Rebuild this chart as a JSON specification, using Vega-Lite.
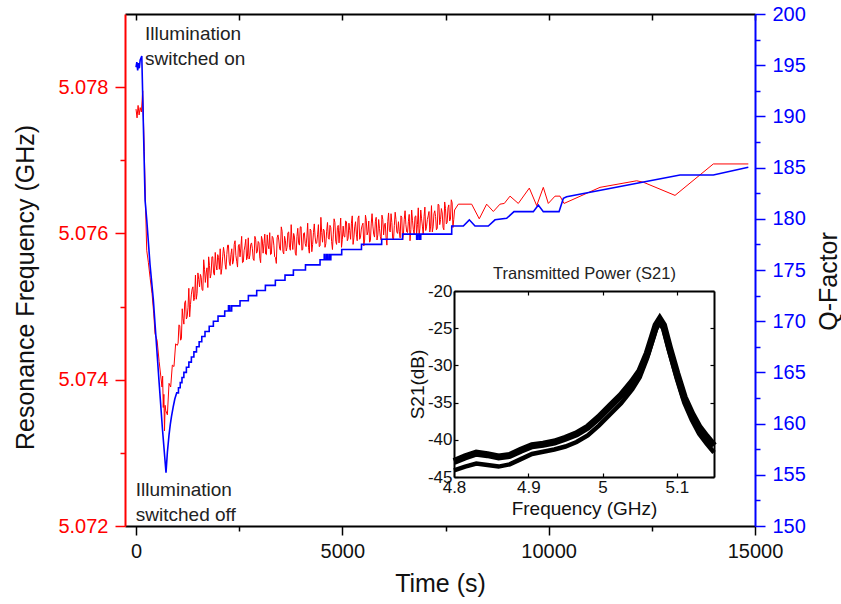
{
  "$schema": "https://vega.github.io/schema/vega-lite/v6.json",
  "width": 630,
  "height": 512,
  "autosize": {"type": "none"},
  "padding": {"left": 125, "top": 14, "right": 86, "bottom": 78},
  "background": "white",
  "config": {
    "font": "Liberation Sans",
    "view": {"stroke": null},
    "axis": {"grid": false, "labelFont": "Liberation Sans", "titleFont": "Liberation Sans", "titleFontWeight": "normal", "labelFlush": false, "labelOverlap": false, "labelBound": false}
  },
  "datasets": {
    "freq": [
      {"t": 0, "f": 5.0777}, {"t": 25, "f": 5.07758}, {"t": 50, "f": 5.07775}, {"t": 75, "f": 5.07762}, {"t": 100, "f": 5.07772}, {"t": 130, "f": 5.07766}, {"t": 162, "f": 5.07795}, {"t": 200, "f": 5.07712}, {"t": 230, "f": 5.0764}, {"t": 259, "f": 5.07577}, {"t": 300, "f": 5.0756}, {"t": 340, "f": 5.0754}, {"t": 388, "f": 5.07518}, {"t": 430, "f": 5.0749}, {"t": 460, "f": 5.07463}, {"t": 510, "f": 5.07454}, {"t": 560, "f": 5.07425}, {"t": 600, "f": 5.07405}, {"t": 630, "f": 5.0739}, {"t": 645, "f": 5.07405}, {"t": 660, "f": 5.07362}, {"t": 675, "f": 5.0738}, {"t": 690, "f": 5.0733}, {"t": 705, "f": 5.07365},
      {"t": 720, "f": 5.07358}, {"t": 760, "f": 5.07352}, {"t": 800, "f": 5.07395}, {"t": 840, "f": 5.0739}, {"t": 880, "f": 5.0742}, {"t": 920, "f": 5.07418}, {"t": 960, "f": 5.07449}, {"t": 1000, "f": 5.07447}, {"t": 1040, "f": 5.07475}, {"t": 1080, "f": 5.07454}, {"t": 1120, "f": 5.07497}, {"t": 1160, "f": 5.07476}, {"t": 1200, "f": 5.07508}, {"t": 1240, "f": 5.07486}, {"t": 1280, "f": 5.07525}, {"t": 1320, "f": 5.07503}, {"t": 1360, "f": 5.07524}, {"t": 1400, "f": 5.07508}, {"t": 1440, "f": 5.07543}, {"t": 1480, "f": 5.07518}, {"t": 1520, "f": 5.07537}, {"t": 1560, "f": 5.07544}, {"t": 1600, "f": 5.07523}, {"t": 1640, "f": 5.07564}, {"t": 1680, "f": 5.07533}, {"t": 1720, "f": 5.07553}, {"t": 1760, "f": 5.07568}, {"t": 1800, "f": 5.07539}, {"t": 1840, "f": 5.07568}, {"t": 1880, "f": 5.07546}, {"t": 1920, "f": 5.07574}, {"t": 1960, "f": 5.0755}, {"t": 2000, "f": 5.07567}, {"t": 2040, "f": 5.07579}, {"t": 2080, "f": 5.07552}, {"t": 2120, "f": 5.07581}, {"t": 2160, "f": 5.07558}, {"t": 2200, "f": 5.07571}, {"t": 2240, "f": 5.07584}, {"t": 2280, "f": 5.07556}, {"t": 2320, "f": 5.07579}, {"t": 2360, "f": 5.07562}, {"t": 2400, "f": 5.0759}, {"t": 2440, "f": 5.07562}, {"t": 2480, "f": 5.07583}, {"t": 2520, "f": 5.07568}, {"t": 2560, "f": 5.07596}, {"t": 2600, "f": 5.07561}, {"t": 2640, "f": 5.07583}, {"t": 2680, "f": 5.07564}, {"t": 2720, "f": 5.07594}, {"t": 2760, "f": 5.0757}, {"t": 2800, "f": 5.07587}, {"t": 2840, "f": 5.07565}, {"t": 2880, "f": 5.07596}, {"t": 2920, "f": 5.07573}, {"t": 2960, "f": 5.07589}, {"t": 3000, "f": 5.07566}, {"t": 3040, "f": 5.07596}, {"t": 3080, "f": 5.07573}, {"t": 3120, "f": 5.07599}, {"t": 3160, "f": 5.07571}, {"t": 3200, "f": 5.07584}, {"t": 3240, "f": 5.07601}, {"t": 3280, "f": 5.07572}, {"t": 3320, "f": 5.07594}, {"t": 3360, "f": 5.07568}, {"t": 3400, "f": 5.07559}, {"t": 3440, "f": 5.07598}, {"t": 3480, "f": 5.07579}, {"t": 3520, "f": 5.07609}, {"t": 3560, "f": 5.07575}, {"t": 3600, "f": 5.07596}, {"t": 3640, "f": 5.07576}, {"t": 3680, "f": 5.07601}, {"t": 3720, "f": 5.07581}, {"t": 3760, "f": 5.07612}, {"t": 3800, "f": 5.07578}, {"t": 3840, "f": 5.07595}, {"t": 3880, "f": 5.0757}, {"t": 3920, "f": 5.07607}, {"t": 3960, "f": 5.07584}, {"t": 4000, "f": 5.07609}, {"t": 4040, "f": 5.07578}, {"t": 4080, "f": 5.07601}, {"t": 4120, "f": 5.07582}, {"t": 4160, "f": 5.07614}, {"t": 4200, "f": 5.07573}, {"t": 4240, "f": 5.07604}, {"t": 4280, "f": 5.07585}, {"t": 4320, "f": 5.07613}, {"t": 4360, "f": 5.07586}, {"t": 4400, "f": 5.07598}, {"t": 4440, "f": 5.07582}, {"t": 4480, "f": 5.07622}, {"t": 4520, "f": 5.07588}, {"t": 4560, "f": 5.07604}, {"t": 4600, "f": 5.07586}, {"t": 4640, "f": 5.07615}, {"t": 4680, "f": 5.07592}, {"t": 4720, "f": 5.07608}, {"t": 4760, "f": 5.07578}, {"t": 4800, "f": 5.0762}, {"t": 4840, "f": 5.07589}, {"t": 4880, "f": 5.07608}, {"t": 4920, "f": 5.07587}, {"t": 4960, "f": 5.07621}, {"t": 5000, "f": 5.07592}, {"t": 5040, "f": 5.07596}, {"t": 5080, "f": 5.07617}, {"t": 5120, "f": 5.0759}, {"t": 5160, "f": 5.07614}, {"t": 5200, "f": 5.07592}, {"t": 5240, "f": 5.07624}, {"t": 5280, "f": 5.07594}, {"t": 5320, "f": 5.07616}, {"t": 5360, "f": 5.0759}, {"t": 5400, "f": 5.07624}, {"t": 5440, "f": 5.07595}, {"t": 5480, "f": 5.07611}, {"t": 5520, "f": 5.07583}, {"t": 5560, "f": 5.07625}, {"t": 5600, "f": 5.07598}, {"t": 5640, "f": 5.07617}, {"t": 5680, "f": 5.0759}, {"t": 5720, "f": 5.07627}, {"t": 5760, "f": 5.07599}, {"t": 5800, "f": 5.07616}, {"t": 5840, "f": 5.07591}, {"t": 5880, "f": 5.07619}, {"t": 5920, "f": 5.07596}, {"t": 5960, "f": 5.07625}, {"t": 6000, "f": 5.07598}, {"t": 6040, "f": 5.07614}, {"t": 6080, "f": 5.07584}, {"t": 6120, "f": 5.07628}, {"t": 6160, "f": 5.07602}, {"t": 6200, "f": 5.07615}, {"t": 6240, "f": 5.07591}, {"t": 6280, "f": 5.07629}, {"t": 6320, "f": 5.07602}, {"t": 6360, "f": 5.07616}, {"t": 6400, "f": 5.07594}, {"t": 6440, "f": 5.07622}, {"t": 6480, "f": 5.07599}, {"t": 6520, "f": 5.07631}, {"t": 6560, "f": 5.07602}, {"t": 6600, "f": 5.07616}, {"t": 6640, "f": 5.0759}, {"t": 6680, "f": 5.07632}, {"t": 6720, "f": 5.07605}, {"t": 6760, "f": 5.07623}, {"t": 6800, "f": 5.07598}, {"t": 6840, "f": 5.07635}, {"t": 6880, "f": 5.07607}, {"t": 6920, "f": 5.0762}, {"t": 6960, "f": 5.07598}, {"t": 7000, "f": 5.07636}, {"t": 7040, "f": 5.07609}, {"t": 7080, "f": 5.07624}, {"t": 7120, "f": 5.07602}, {"t": 7160, "f": 5.07638}, {"t": 7200, "f": 5.07609}, {"t": 7240, "f": 5.07631}, {"t": 7280, "f": 5.07605}, {"t": 7320, "f": 5.0764}, {"t": 7360, "f": 5.07612}, {"t": 7400, "f": 5.07634}, {"t": 7440, "f": 5.07608}, {"t": 7480, "f": 5.07643}, {"t": 7520, "f": 5.07613}, {"t": 7560, "f": 5.07635}, {"t": 7600, "f": 5.07617}, {"t": 7640, "f": 5.07646}, {"t": 7680, "f": 5.07608}, {"t": 7720, "f": 5.07632},
      {"t": 1020, "f": 5.0745}, {"t": 1060, "f": 5.07474}, {"t": 1100, "f": 5.07456}, {"t": 1140, "f": 5.07484}, {"t": 1180, "f": 5.07505}, {"t": 1220, "f": 5.07483}, {"t": 1260, "f": 5.07499}, {"t": 1300, "f": 5.07486}, {"t": 1340, "f": 5.07516}, {"t": 1380, "f": 5.07527}, {"t": 1420, "f": 5.07512}, {"t": 1460, "f": 5.0751}, {"t": 1500, "f": 5.07546}, {"t": 1540, "f": 5.07527}, {"t": 1580, "f": 5.0754}, {"t": 1620, "f": 5.07522}, {"t": 1660, "f": 5.07551}, {"t": 1700, "f": 5.07546}, {"t": 1740, "f": 5.07526}, {"t": 1780, "f": 5.07556}, {"t": 1820, "f": 5.07545}, {"t": 1860, "f": 5.07568}, {"t": 1900, "f": 5.07543}, {"t": 1940, "f": 5.07557}, {"t": 1980, "f": 5.07571}, {"t": 2020, "f": 5.07551}, {"t": 2060, "f": 5.07544}, {"t": 2100, "f": 5.07568}, {"t": 2140, "f": 5.07573}, {"t": 2180, "f": 5.07551}, {"t": 2220, "f": 5.07584}, {"t": 2260, "f": 5.07561}, {"t": 2300, "f": 5.07571}, {"t": 2340, "f": 5.07558}, {"t": 2380, "f": 5.07585}, {"t": 2420, "f": 5.0757}, {"t": 2460, "f": 5.07554}, {"t": 2500, "f": 5.07585}, {"t": 2540, "f": 5.0758}, {"t": 2580, "f": 5.0756}, {"t": 2620, "f": 5.07577}, {"t": 2660, "f": 5.07592}, {"t": 2700, "f": 5.07568}, {"t": 2740, "f": 5.07565}, {"t": 2780, "f": 5.07585}, {"t": 2820, "f": 5.07579}, {"t": 2860, "f": 5.07563}, {"t": 2900, "f": 5.07592}, {"t": 2940, "f": 5.07575}, {"t": 2980, "f": 5.07587}, {"t": 3020, "f": 5.0756}, {"t": 3060, "f": 5.07591}, {"t": 3100, "f": 5.07586}, {"t": 3140, "f": 5.07572}, {"t": 3180, "f": 5.07598}, {"t": 3220, "f": 5.07579}, {"t": 3260, "f": 5.07571}, {"t": 3300, "f": 5.07596}, {"t": 3340, "f": 5.07584}, {"t": 3380, "f": 5.07567}, {"t": 3420, "f": 5.07594}, {"t": 3460, "f": 5.07591}, {"t": 3500, "f": 5.07577}, {"t": 3540, "f": 5.07603}, {"t": 3580, "f": 5.07572}, {"t": 3620, "f": 5.0759}, {"t": 3660, "f": 5.07581}, {"t": 3700, "f": 5.07602}, {"t": 3740, "f": 5.07577}, {"t": 3780, "f": 5.0759}, {"t": 3820, "f": 5.076}, {"t": 3860, "f": 5.07573}, {"t": 3900, "f": 5.07596}, {"t": 3940, "f": 5.07587}, {"t": 3980, "f": 5.07609}, {"t": 4020, "f": 5.07577}, {"t": 4060, "f": 5.076}, {"t": 4100, "f": 5.07586}, {"t": 4140, "f": 5.07595}, {"t": 4180, "f": 5.07581}, {"t": 4220, "f": 5.07606}, {"t": 4260, "f": 5.07575}, {"t": 4300, "f": 5.07601}, {"t": 4340, "f": 5.07595}, {"t": 4380, "f": 5.07587}, {"t": 4420, "f": 5.07612}, {"t": 4460, "f": 5.07583}, {"t": 4500, "f": 5.07601}, {"t": 4540, "f": 5.07606}, {"t": 4580, "f": 5.07581}, {"t": 4620, "f": 5.07603}, {"t": 4660, "f": 5.07594}, {"t": 4700, "f": 5.07611}, {"t": 4740, "f": 5.07589}, {"t": 4780, "f": 5.07598}, {"t": 4820, "f": 5.07615}, {"t": 4860, "f": 5.07585}, {"t": 4900, "f": 5.07611}, {"t": 4940, "f": 5.07604}, {"t": 4980, "f": 5.07581}, {"t": 5020, "f": 5.0761}, {"t": 5060, "f": 5.07595}, {"t": 5100, "f": 5.07616}, {"t": 5140, "f": 5.07593}, {"t": 5180, "f": 5.07604}, {"t": 5220, "f": 5.07614}, {"t": 5260, "f": 5.07585}, {"t": 5300, "f": 5.07609}, {"t": 5340, "f": 5.07599}, {"t": 5380, "f": 5.07621}, {"t": 5420, "f": 5.07592}, {"t": 5460, "f": 5.07606}, {"t": 5500, "f": 5.07614}, {"t": 5540, "f": 5.07591}, {"t": 5580, "f": 5.07618}, {"t": 5620, "f": 5.07602}, {"t": 5660, "f": 5.07588}, {"t": 5700, "f": 5.07613}, {"t": 5740, "f": 5.0761}, {"t": 5780, "f": 5.07595}, {"t": 5820, "f": 5.07622}, {"t": 5860, "f": 5.07598}, {"t": 5900, "f": 5.07607}, {"t": 5940, "f": 5.07591}, {"t": 5980, "f": 5.07619}, {"t": 6020, "f": 5.07612}, {"t": 6060, "f": 5.07594}, {"t": 6100, "f": 5.07616}, {"t": 6140, "f": 5.07604}, {"t": 6180, "f": 5.07627}, {"t": 6220, "f": 5.07593}, {"t": 6260, "f": 5.07611}, {"t": 6300, "f": 5.07619}, {"t": 6340, "f": 5.076}, {"t": 6380, "f": 5.07603}, {"t": 6420, "f": 5.07624}, {"t": 6460, "f": 5.07591}, {"t": 6500, "f": 5.07619}, {"t": 6540, "f": 5.07612}, {"t": 6580, "f": 5.07601}, {"t": 6620, "f": 5.07626}, {"t": 6660, "f": 5.07605}, {"t": 6700, "f": 5.07618}, {"t": 6740, "f": 5.07599}, {"t": 6780, "f": 5.07624}, {"t": 6820, "f": 5.07612}, {"t": 6860, "f": 5.07597}, {"t": 6900, "f": 5.07632}, {"t": 6940, "f": 5.0761}, {"t": 6980, "f": 5.07623}, {"t": 7020, "f": 5.07604}, {"t": 7060, "f": 5.07619}, {"t": 7100, "f": 5.0763}, {"t": 7140, "f": 5.0761}, {"t": 7180, "f": 5.07602}, {"t": 7220, "f": 5.07627}, {"t": 7260, "f": 5.07623}, {"t": 7300, "f": 5.07607}, {"t": 7340, "f": 5.07639}, {"t": 7380, "f": 5.07619}, {"t": 7420, "f": 5.07628}, {"t": 7460, "f": 5.07605}, {"t": 7500, "f": 5.07634}, {"t": 7540, "f": 5.07615}, {"t": 7580, "f": 5.07639}, {"t": 7620, "f": 5.07619}, {"t": 7660, "f": 5.07642}, {"t": 7700, "f": 5.07619},
      {"t": 7811, "f": 5.0764}, {"t": 8134, "f": 5.0764}, {"t": 8318, "f": 5.0762}, {"t": 8497, "f": 5.0764}, {"t": 8659, "f": 5.0763}, {"t": 8820, "f": 5.0764}, {"t": 8925, "f": 5.07641}, {"t": 9063, "f": 5.07651}, {"t": 9264, "f": 5.07641}, {"t": 9531, "f": 5.07662}, {"t": 9710, "f": 5.07638}, {"t": 9870, "f": 5.07663}, {"t": 9991, "f": 5.07641}, {"t": 10154, "f": 5.07651}, {"t": 10275, "f": 5.07651}, {"t": 10372, "f": 5.07641}, {"t": 11244, "f": 5.07663}, {"t": 12133, "f": 5.07672}, {"t": 12294, "f": 5.0767}, {"t": 13062, "f": 5.07652}, {"t": 13990, "f": 5.07695}, {"t": 14838, "f": 5.07695}
    ],
    "q": [
      {"t": 0, "q": 194.8}, {"t": 20, "q": 195.3}, {"t": 40, "q": 194.5}, {"t": 60, "q": 195.2}, {"t": 80, "q": 194.7}, {"t": 100, "q": 195.5}, {"t": 140, "q": 195.9}, {"t": 220, "q": 181.8}, {"t": 260, "q": 179.9}, {"t": 340, "q": 175.5}, {"t": 420, "q": 172.1}, {"t": 560, "q": 164.0}, {"t": 640, "q": 159.5}, {"t": 727, "q": 155.2}, {"t": 760, "q": 157.2}, {"t": 800, "q": 158.9}, {"t": 830, "q": 159.9}, {"t": 860, "q": 160.7}, {"t": 900, "q": 161.6}, {"t": 940, "q": 162.4}, {"t": 986, "q": 163.0},
      {"t": 1028, "q": 163.0}, {"t": 1029, "q": 163.5}, {"t": 1071, "q": 163.5}, {"t": 1072, "q": 164.0}, {"t": 1113, "q": 164.0}, {"t": 1114, "q": 164.5}, {"t": 1159, "q": 164.5}, {"t": 1160, "q": 165.0}, {"t": 1220, "q": 165.0}, {"t": 1221, "q": 165.5}, {"t": 1280, "q": 165.5}, {"t": 1281, "q": 166.0}, {"t": 1341, "q": 166.0}, {"t": 1342, "q": 166.5}, {"t": 1402, "q": 166.5}, {"t": 1403, "q": 167.0}, {"t": 1465, "q": 167.0}, {"t": 1466, "q": 167.5}, {"t": 1529, "q": 167.5}, {"t": 1530, "q": 168.0}, {"t": 1593, "q": 168.0}, {"t": 1594, "q": 168.5}, {"t": 1671, "q": 168.5}, {"t": 1672, "q": 169.0}, {"t": 1773, "q": 169.0}, {"t": 1774, "q": 169.5}, {"t": 1874, "q": 169.5}, {"t": 1875, "q": 170.0}, {"t": 1987, "q": 170.0}, {"t": 1988, "q": 170.5}, {"t": 2149, "q": 170.5}, {"t": 2150, "q": 171.0},
      {"t": 2240, "q": 171.0}, {"t": 2241, "q": 171.5}, {"t": 2255, "q": 171.5}, {"t": 2256, "q": 171.0}, {"t": 2265, "q": 171.0}, {"t": 2266, "q": 171.5}, {"t": 2275, "q": 171.5}, {"t": 2276, "q": 171.0},
      {"t": 2318, "q": 171.0}, {"t": 2319, "q": 171.5}, {"t": 2520, "q": 171.5}, {"t": 2521, "q": 172.0}, {"t": 2722, "q": 172.0}, {"t": 2723, "q": 172.5}, {"t": 2924, "q": 172.5}, {"t": 2925, "q": 173.0}, {"t": 3134, "q": 173.0}, {"t": 3135, "q": 173.5}, {"t": 3376, "q": 173.5}, {"t": 3377, "q": 174.0}, {"t": 3610, "q": 174.0}, {"t": 3611, "q": 174.5}, {"t": 3813, "q": 174.5}, {"t": 3814, "q": 175.0}, {"t": 4106, "q": 175.0}, {"t": 4107, "q": 175.5}, {"t": 4459, "q": 175.5}, {"t": 4460, "q": 176.0},
      {"t": 4560, "q": 176.0}, {"t": 4561, "q": 176.5}, {"t": 4580, "q": 176.5}, {"t": 4581, "q": 176.0}, {"t": 4620, "q": 176.0}, {"t": 4621, "q": 176.5}, {"t": 4640, "q": 176.5}, {"t": 4641, "q": 176.0}, {"t": 4680, "q": 176.0}, {"t": 4681, "q": 176.5}, {"t": 4700, "q": 176.5}, {"t": 4701, "q": 176.0},
      {"t": 4721, "q": 176.0}, {"t": 4722, "q": 176.5}, {"t": 4984, "q": 176.5}, {"t": 4985, "q": 177.0}, {"t": 5463, "q": 177.0}, {"t": 5464, "q": 177.5}, {"t": 5953, "q": 177.5}, {"t": 5954, "q": 178.0}, {"t": 6459, "q": 178.0}, {"t": 6460, "q": 178.5},
      {"t": 6800, "q": 178.5}, {"t": 6801, "q": 178.0}, {"t": 6830, "q": 178.0}, {"t": 6831, "q": 178.5}, {"t": 6870, "q": 178.5}, {"t": 6871, "q": 178.0}, {"t": 6900, "q": 178.0}, {"t": 6901, "q": 178.5},
      {"t": 7650, "q": 178.5}, {"t": 7651, "q": 179.3}, {"t": 7932, "q": 179.3}, {"t": 8077, "q": 179.9}, {"t": 8215, "q": 179.3}, {"t": 8537, "q": 179.3}, {"t": 8700, "q": 179.9}, {"t": 8982, "q": 180.05}, {"t": 9160, "q": 180.7}, {"t": 9628, "q": 180.7}, {"t": 9749, "q": 181.35}, {"t": 9870, "q": 180.7}, {"t": 10251, "q": 180.7}, {"t": 10356, "q": 182.0}, {"t": 10436, "q": 182.16}, {"t": 13183, "q": 184.28}, {"t": 13990, "q": 184.28}, {"t": 14838, "q": 185.03}
    ],
    "s21": [
      {"ghz": 4.8, "db": -42.9, "trace": "upper"}, {"ghz": 4.815, "db": -42.3, "trace": "upper"}, {"ghz": 4.83, "db": -41.8, "trace": "upper"}, {"ghz": 4.845, "db": -42.0, "trace": "upper"}, {"ghz": 4.86, "db": -42.3, "trace": "upper"}, {"ghz": 4.875, "db": -42.1, "trace": "upper"}, {"ghz": 4.89, "db": -41.4, "trace": "upper"}, {"ghz": 4.905, "db": -40.8, "trace": "upper"}, {"ghz": 4.92, "db": -40.6, "trace": "upper"}, {"ghz": 4.935, "db": -40.3, "trace": "upper"}, {"ghz": 4.95, "db": -39.8, "trace": "upper"}, {"ghz": 4.965, "db": -39.2, "trace": "upper"}, {"ghz": 4.98, "db": -38.3, "trace": "upper"}, {"ghz": 4.995, "db": -37.0, "trace": "upper"}, {"ghz": 5.01, "db": -35.5, "trace": "upper"}, {"ghz": 5.025, "db": -34.0, "trace": "upper"}, {"ghz": 5.04, "db": -32.2, "trace": "upper"}, {"ghz": 5.05, "db": -30.8, "trace": "upper"}, {"ghz": 5.06, "db": -28.4, "trace": "upper"}, {"ghz": 5.067, "db": -26.2, "trace": "upper"}, {"ghz": 5.072, "db": -24.6, "trace": "upper"}, {"ghz": 5.077, "db": -23.8, "trace": "upper"}, {"ghz": 5.082, "db": -24.6, "trace": "upper"}, {"ghz": 5.09, "db": -27.6, "trace": "upper"}, {"ghz": 5.1, "db": -31.1, "trace": "upper"}, {"ghz": 5.11, "db": -34.3, "trace": "upper"}, {"ghz": 5.12, "db": -36.5, "trace": "upper"}, {"ghz": 5.13, "db": -38.3, "trace": "upper"}, {"ghz": 5.14, "db": -39.6, "trace": "upper"}, {"ghz": 5.15, "db": -40.8, "trace": "upper"},
      {"ghz": 4.8, "db": -44.1, "trace": "lower"}, {"ghz": 4.815, "db": -43.6, "trace": "lower"}, {"ghz": 4.83, "db": -43.2, "trace": "lower"}, {"ghz": 4.845, "db": -43.4, "trace": "lower"}, {"ghz": 4.86, "db": -43.6, "trace": "lower"}, {"ghz": 4.875, "db": -43.3, "trace": "lower"}, {"ghz": 4.89, "db": -42.6, "trace": "lower"}, {"ghz": 4.905, "db": -41.9, "trace": "lower"}, {"ghz": 4.92, "db": -41.6, "trace": "lower"}, {"ghz": 4.935, "db": -41.3, "trace": "lower"}, {"ghz": 4.95, "db": -40.9, "trace": "lower"}, {"ghz": 4.965, "db": -40.3, "trace": "lower"}, {"ghz": 4.98, "db": -39.4, "trace": "lower"}, {"ghz": 4.995, "db": -38.1, "trace": "lower"}, {"ghz": 5.01, "db": -36.6, "trace": "lower"}, {"ghz": 5.025, "db": -35.1, "trace": "lower"}, {"ghz": 5.04, "db": -33.2, "trace": "lower"}, {"ghz": 5.05, "db": -31.6, "trace": "lower"}, {"ghz": 5.06, "db": -29.0, "trace": "lower"}, {"ghz": 5.067, "db": -26.7, "trace": "lower"}, {"ghz": 5.072, "db": -25.1, "trace": "lower"}, {"ghz": 5.077, "db": -24.3, "trace": "lower"}, {"ghz": 5.082, "db": -25.1, "trace": "lower"}, {"ghz": 5.09, "db": -28.2, "trace": "lower"}, {"ghz": 5.1, "db": -31.8, "trace": "lower"}, {"ghz": 5.11, "db": -35.0, "trace": "lower"}, {"ghz": 5.12, "db": -37.3, "trace": "lower"}, {"ghz": 5.13, "db": -39.2, "trace": "lower"}, {"ghz": 5.14, "db": -40.5, "trace": "lower"}, {"ghz": 5.15, "db": -41.7, "trace": "lower"}
    ],
    "notes": [
      {"t": 218, "f": 5.07885, "label": "Illumination\nswitched on"},
      {"t": -5, "f": 5.07262, "label": "Illumination\nswitched off"}
    ]
  },
  "layer": [
    {
      "data": {"name": "freq"},
      "mark": {"type": "line", "color": "#ff0000", "strokeWidth": 1},
      "encoding": {
        "x": {
          "field": "t", "type": "quantitative",
          "scale": {"domain": [-267, 15000], "nice": false, "zero": false},
          "axis": {
            "orient": "bottom", "values": [0, 2500, 5000, 7500, 10000, 12500, 15000], "format": "d",
            "labelExpr": "datum.value % 5000 === 0 ? datum.label : ''",
            "tickSize": {"condition": {"test": "datum.value % 5000 === 0", "value": 9}, "value": 5},
            "tickColor": "#000", "tickWidth": 1.5, "domainColor": "#000", "domainWidth": 2,
            "labelFontSize": 20, "labelColor": "#111", "labelPadding": 6,
            "title": "Time (s)", "titleFontSize": 25, "titleColor": "#111", "titleBaseline": "alphabetic", "titleY": 65
          }
        },
        "y": {
          "field": "f", "type": "quantitative",
          "scale": {"domain": [5.072, 5.079], "nice": false, "zero": false},
          "axis": {
            "orient": "left", "values": [5.072, 5.073, 5.074, 5.075, 5.076, 5.077, 5.078],
            "labelExpr": "round(datum.value * 1000) % 2 === 0 ? format(datum.value, '.3f') : ''",
            "tickSize": {"condition": {"test": "round(datum.value * 1000) % 2 === 0", "value": 10}, "value": 5},
            "tickColor": "#ff0000", "tickWidth": 1.5, "domainColor": "#ff0000", "domainWidth": 2,
            "labelFontSize": 20, "labelColor": "#ff0000", "labelPadding": 7,
            "title": "Resonance Frequency (GHz)", "titleFontSize": 25, "titleColor": "#111",
            "titleAngle": -90, "titleBaseline": "alphabetic", "titleX": -92, "titleY": 273
          }
        }
      }
    },
    {
      "data": {"name": "notes"},
      "mark": {"type": "text", "align": "left", "baseline": "top", "fontSize": 19, "lineBreak": "\n", "lineHeight": 25, "color": "#222"},
      "encoding": {
        "x": {"field": "t", "type": "quantitative", "scale": {"domain": [-267, 15000], "nice": false, "zero": false}, "axis": null},
        "y": {"field": "f", "type": "quantitative", "scale": {"domain": [5.072, 5.079], "nice": false, "zero": false}, "axis": null},
        "text": {"field": "label"}
      }
    },
    {
      "data": {"name": "q"},
      "mark": {"type": "line", "color": "#0000ff", "strokeWidth": 1.6},
      "encoding": {
        "x": {
          "field": "t", "type": "quantitative",
          "scale": {"domain": [-267, 15000], "nice": false, "zero": false},
          "axis": {
            "orient": "top", "values": [0, 2500, 5000, 7500, 10000, 12500, 15000], "labels": false,
            "tickSize": -6, "tickColor": "#000", "tickWidth": 1.5, "domainColor": "#000", "domainWidth": 2, "title": null
          }
        },
        "y": {
          "field": "q", "type": "quantitative",
          "scale": {"domain": [150, 200], "nice": false, "zero": false},
          "axis": {
            "orient": "right", "values": [150, 152.5, 155, 157.5, 160, 162.5, 165, 167.5, 170, 172.5, 175, 177.5, 180, 182.5, 185, 187.5, 190, 192.5, 195, 197.5, 200],
            "labelExpr": "datum.value % 5 === 0 ? format(datum.value, 'd') : ''",
            "tickSize": {"condition": {"test": "datum.value % 5 === 0", "value": 10}, "value": 5},
            "tickColor": "#0000ff", "tickWidth": 1.5, "domainColor": "#0000ff", "domainWidth": 2,
            "labelFontSize": 20, "labelColor": "#0000ff", "labelPadding": 7,
            "title": "Q-Factor", "titleFontSize": 25, "titleColor": "#111",
            "titleAngle": -90, "titleBaseline": "alphabetic", "titleX": 81, "titleY": 267
          }
        }
      }
    },
    {
      "data": {"name": "s21"},
      "layer": [
        {
          "transform": [{"filter": "datum.trace === 'upper'"}],
          "mark": {"type": "line", "color": "#000", "strokeWidth": 7},
          "encoding": {
            "x": {
              "field": "ghz", "type": "quantitative",
              "scale": {"domain": [4.8, 5.15], "range": [329, 589], "nice": false, "zero": false},
              "axis": {
                "orient": "bottom", "offset": -49, "values": [4.8, 4.9, 5, 5.1],
                "labelExpr": "format(datum.value, '~g')", "tickSize": -4, "tickColor": "#000", "tickWidth": 1.2,
                "domainColor": "#000", "domainWidth": 2, "labelFontSize": 17, "labelColor": "#111", "labelPadding": 6,
                "title": "Frequency (GHz)", "titleFontSize": 19, "titleColor": "#111", "titleBaseline": "alphabetic", "titleY": 37
              }
            },
            "y": {
              "field": "db", "type": "quantitative",
              "scale": {"domain": [-45, -20], "range": [463, 277], "nice": false, "zero": false},
              "axis": {
                "orient": "left", "offset": -329, "values": [-45, -40, -35, -30, -25, -20],
                "labelExpr": "'-' + abs(datum.value)", "tickSize": -4, "tickColor": "#000", "tickWidth": 1.2,
                "domainColor": "#000", "domainWidth": 2, "labelFontSize": 17, "labelColor": "#111", "labelPadding": 6,
                "title": "S21(dB)", "titleFontSize": 19, "titleColor": "#111", "titleAngle": -90, "titleBaseline": "alphabetic", "titleX": -31
              }
            }
          }
        },
        {
          "transform": [{"filter": "datum.trace === 'lower'"}],
          "mark": {"type": "line", "color": "#000", "strokeWidth": 4.5},
          "encoding": {
            "x": {
              "field": "ghz", "type": "quantitative",
              "scale": {"domain": [4.8, 5.15], "range": [329, 589], "nice": false, "zero": false},
              "axis": {
                "orient": "top", "offset": -277, "values": [4.8, 4.9, 5, 5.1], "labels": false,
                "tickSize": -4, "tickColor": "#000", "tickWidth": 1.2, "domainColor": "#000", "domainWidth": 2,
                "title": "Transmitted Power (S21)", "titleFontSize": 16.5, "titleColor": "#222", "titleBaseline": "alphabetic", "titleY": -13
              }
            },
            "y": {
              "field": "db", "type": "quantitative",
              "scale": {"domain": [-45, -20], "range": [463, 277], "nice": false, "zero": false},
              "axis": {
                "orient": "right", "offset": -41, "values": [-45, -40, -35, -30, -25, -20], "labels": false,
                "tickSize": -4, "tickColor": "#000", "tickWidth": 1.2, "domainColor": "#000", "domainWidth": 2, "title": null
              }
            }
          }
        }
      ],
      "resolve": {"axis": {"x": "independent", "y": "independent"}}
    }
  ],
  "resolve": {
    "scale": {"x": "independent", "y": "independent"},
    "axis": {"x": "independent", "y": "independent"}
  }
}
